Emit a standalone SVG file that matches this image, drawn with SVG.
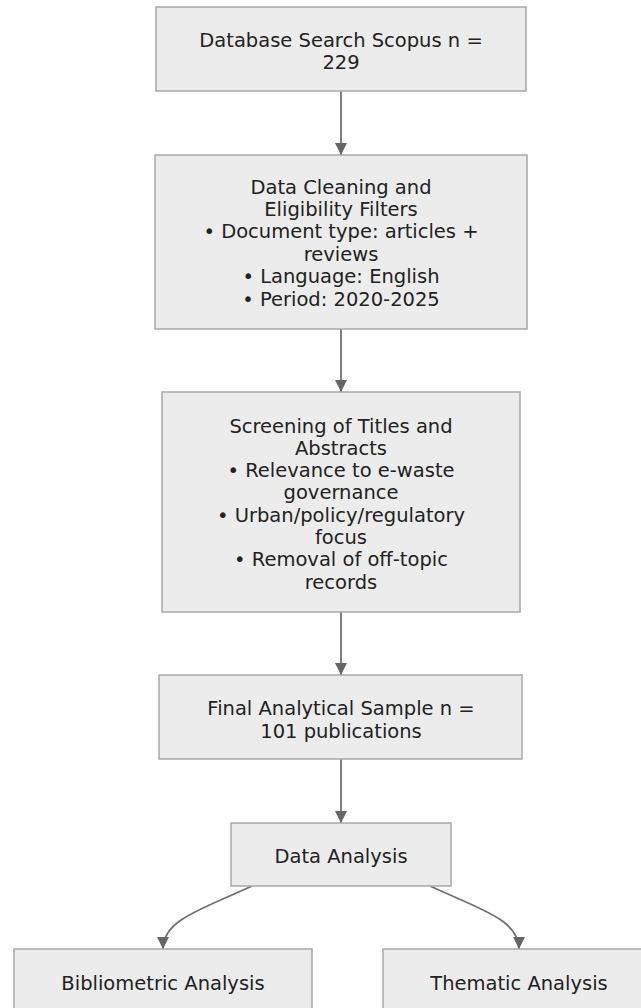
<svg xmlns="http://www.w3.org/2000/svg" width="641" height="1008" viewBox="0 0 641 1008">
<style>
.box{fill:#ececec;stroke:#a8a8a8;stroke-width:1.5}
.t{font-family:"DejaVu Sans",sans-serif;font-size:19.5px;fill:#222;text-anchor:middle;dominant-baseline:central}
.edge{fill:none;stroke:#707070;stroke-width:1.8}
</style>
<defs>
<marker id="arr" markerUnits="userSpaceOnUse" markerWidth="12" markerHeight="12" refX="10" refY="5" viewBox="0 0 10 10" orient="auto">
<path d="M0,0 L10,5 L0,10 z" fill="#666"/>
</marker>
</defs>
<rect width="641" height="1008" fill="#fff"/>
<g id="connectors">
<path class="edge" d="M341,91 L341,155" marker-end="url(#arr)"/>
<path class="edge" d="M341,329 L341,392" marker-end="url(#arr)"/>
<path class="edge" d="M341,612 L341,675" marker-end="url(#arr)"/>
<path class="edge" d="M341,759 L341,823" marker-end="url(#arr)"/>
<path class="edge" d="M252,886 C200,910 163,920 163,949" marker-end="url(#arr)"/>
<path class="edge" d="M430,886 C482,910 519,920 519,949" marker-end="url(#arr)"/>
</g>
<g id="n1">
<rect class="box" x="156" y="7" width="370" height="84"/>
<text class="t" x="341" y="40">Database Search Scopus n =</text>
<text class="t" x="341" y="62">229</text>
</g>
<g id="n2">
<rect class="box" x="155" y="155" width="372" height="174"/>
<text class="t" x="341" y="187">Data Cleaning and</text>
<text class="t" x="341" y="209.4">Eligibility Filters</text>
<text class="t" x="341" y="231.8">• Document type: articles +</text>
<text class="t" x="341" y="254.2">reviews</text>
<text class="t" x="341" y="276.6">• Language: English</text>
<text class="t" x="341" y="299">• Period: 2020-2025</text>
</g>
<g id="n3">
<rect class="box" x="162" y="392" width="358" height="220"/>
<text class="t" x="341" y="426">Screening of Titles and</text>
<text class="t" x="341" y="448.3">Abstracts</text>
<text class="t" x="341" y="470.6">• Relevance to e-waste</text>
<text class="t" x="341" y="492.9">governance</text>
<text class="t" x="341" y="515.2">• Urban/policy/regulatory</text>
<text class="t" x="341" y="537.5">focus</text>
<text class="t" x="341" y="559.8">• Removal of off-topic</text>
<text class="t" x="341" y="582.1">records</text>
</g>
<g id="n4">
<rect class="box" x="159" y="675" width="363" height="84"/>
<text class="t" x="341" y="708">Final Analytical Sample n =</text>
<text class="t" x="341" y="731">101 publications</text>
</g>
<g id="n5">
<rect class="box" x="231" y="823" width="220" height="63"/>
<text class="t" x="341" y="856">Data Analysis</text>
</g>
<g id="n6">
<rect class="box" x="14" y="949" width="298" height="80"/>
<text class="t" x="163" y="983">Bibliometric Analysis</text>
</g>
<g id="n7">
<rect class="box" x="383" y="949" width="272" height="80"/>
<text class="t" x="519" y="983">Thematic Analysis</text>
</g>
</svg>
